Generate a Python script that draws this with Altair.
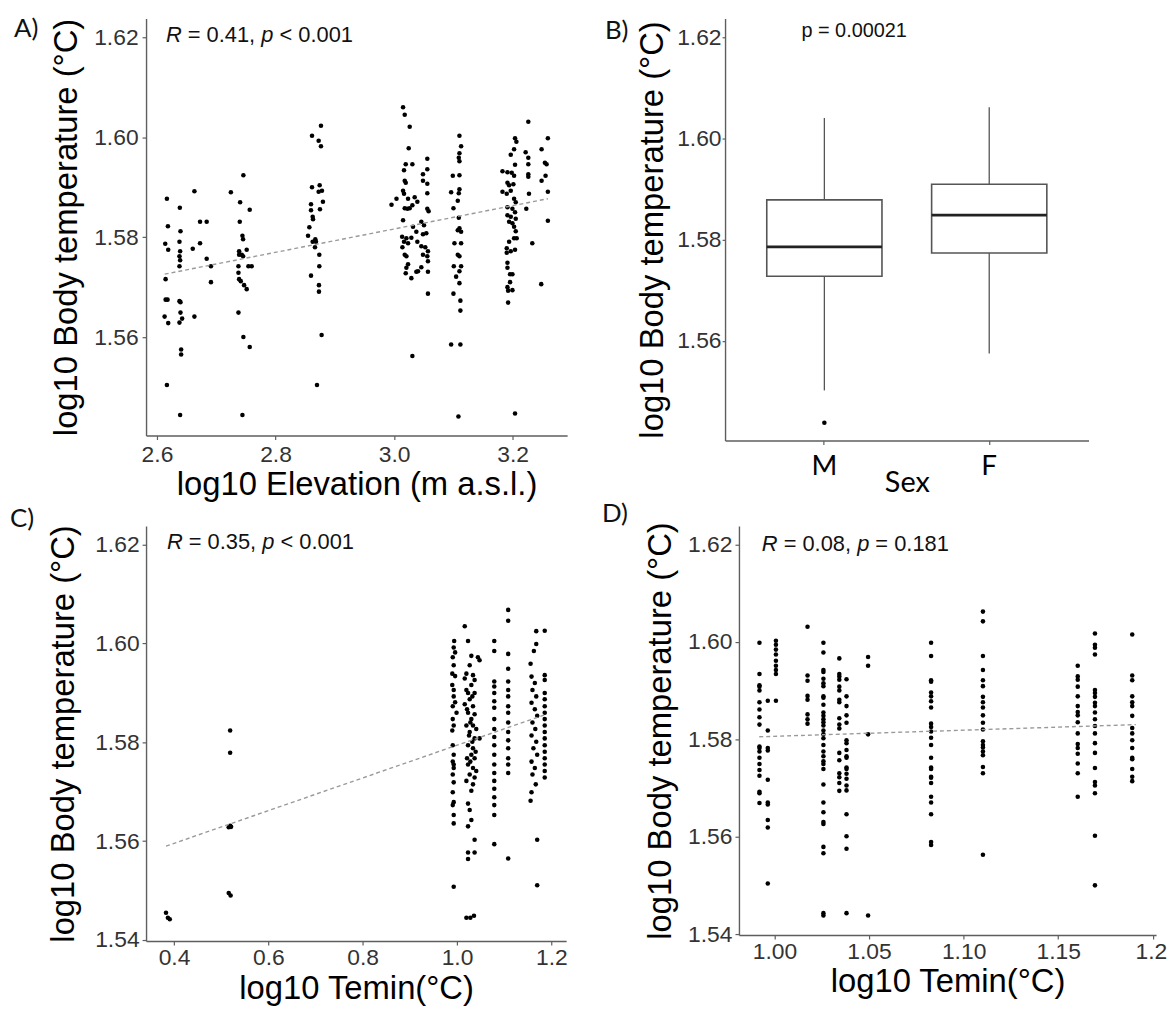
import altair as alt
import pandas as pd

FONT = "Liberation Sans"
LFONT = "Lato"
YTITLE = "log10 Body temperature (°C)"

# ---------------- Panel A: log10 elevation vs log10 body temperature ----------------
elev_pts = [
    (2.6168, 1.5877), (2.6185, 1.5822), (2.6140, 1.5787), (2.6190, 1.5775), (2.6146, 1.5716),
    (2.6146, 1.5675), (2.6179, 1.5675), (2.6129, 1.5641), (2.6190, 1.5628), (2.6168, 1.5504),
    (2.6386, 1.5859), (2.6397, 1.5812), (2.6380, 1.5791), (2.6391, 1.5772), (2.6380, 1.5762),
    (2.6391, 1.5754), (2.6380, 1.5742), (2.6380, 1.5672), (2.6397, 1.5670), (2.6397, 1.5649),
    (2.6425, 1.5637), (2.6380, 1.5629), (2.6408, 1.5575), (2.6408, 1.5565), (2.6391, 1.5444),
    (2.6632, 1.5892), (2.6604, 1.5777), (2.6727, 1.5788), (2.6727, 1.5831), (2.6839, 1.5831),
    (2.6839, 1.5757), (2.6911, 1.5742), (2.6911, 1.5710), (2.6632, 1.5641),
    (2.7247, 1.5890), (2.7458, 1.5924), (2.7403, 1.5870), (2.7565, 1.5855), (2.7397, 1.5831),
    (2.7442, 1.5803), (2.7453, 1.5796), (2.7386, 1.5772), (2.7514, 1.5775), (2.7386, 1.5765),
    (2.7431, 1.5765), (2.7453, 1.5762), (2.7375, 1.5742), (2.7543, 1.5742), (2.7598, 1.5742),
    (2.7375, 1.5729), (2.7386, 1.5716), (2.7414, 1.5712), (2.7470, 1.5704), (2.7514, 1.5696),
    (2.7375, 1.5649), (2.7458, 1.5600), (2.7565, 1.5580), (2.7442, 1.5444),
    (2.8767, 1.6023), (2.8616, 1.6003), (2.8728, 1.5993), (2.8767, 1.5982), (2.8616, 1.5900),
    (2.8745, 1.5904), (2.8784, 1.5893), (2.8728, 1.5891), (2.8800, 1.5871), (2.8599, 1.5866),
    (2.8750, 1.5856), (2.8599, 1.5854), (2.8627, 1.5841), (2.8633, 1.5836), (2.8571, 1.5820),
    (2.8549, 1.5803), (2.8672, 1.5796), (2.8627, 1.5791), (2.8683, 1.5791), (2.8666, 1.5780),
    (2.8739, 1.5765), (2.8739, 1.5742), (2.8599, 1.5723), (2.8733, 1.5704), (2.8733, 1.5691),
    (2.8778, 1.5604), (2.8700, 1.5504),
    (3.0152, 1.6060), (3.0180, 1.6045), (3.0264, 1.6021), (3.0247, 1.5978), (3.0197, 1.5946),
    (3.0309, 1.5946), (3.0168, 1.5934), (3.0561, 1.5957), (3.0488, 1.5926), (3.0561, 1.5936),
    (3.0488, 1.5913), (3.0561, 1.5907), (3.0180, 1.5913), (3.0197, 1.5909), (3.0152, 1.5893),
    (2.9957, 1.5865), (3.0041, 1.5877), (3.0168, 1.5887), (3.0236, 1.5877), (3.0180, 1.5858),
    (3.0264, 1.5858), (3.0348, 1.5880), (3.0393, 1.5871), (3.0309, 1.5864), (3.0225, 1.5857),
    (3.0561, 1.5888), (3.0561, 1.5857), (3.0583, 1.5852), (3.0152, 1.5834), (3.0320, 1.5821),
    (3.0460, 1.5831), (3.0505, 1.5824), (3.0136, 1.5801), (3.0208, 1.5798), (3.0292, 1.5799),
    (3.0376, 1.5811), (3.0488, 1.5806), (3.0544, 1.5808), (3.0168, 1.5791), (3.0141, 1.5780),
    (3.0236, 1.5788), (3.0393, 1.5791), (3.0460, 1.5782), (3.0527, 1.5780), (3.0572, 1.5772),
    (3.0180, 1.5765), (3.0208, 1.5762), (3.0488, 1.5765), (3.0561, 1.5762), (3.0236, 1.5746),
    (3.0208, 1.5739), (3.0404, 1.5732), (3.0460, 1.5740), (3.0572, 1.5752), (3.0197, 1.5728),
    (3.0292, 1.5718), (3.0376, 1.5731), (3.0572, 1.5731), (3.0572, 1.5687), (3.0309, 1.5562),
    (3.1103, 1.6003), (3.1131, 1.5982), (3.1103, 1.5968), (3.1092, 1.5959), (3.1103, 1.5952),
    (3.0991, 1.5923), (3.1103, 1.5924), (3.0963, 1.5890), (3.1103, 1.5896), (3.1092, 1.5888),
    (3.1002, 1.5858), (3.1075, 1.5873), (3.1092, 1.5839), (3.1103, 1.5818), (3.1075, 1.5814),
    (3.1131, 1.5811), (3.1019, 1.5788), (3.1131, 1.5788), (3.1075, 1.5765), (3.1103, 1.5762),
    (3.1008, 1.5742), (3.1131, 1.5742), (3.1047, 1.5721), (3.1103, 1.5732), (3.1103, 1.5708),
    (3.1002, 1.5687), (3.1119, 1.5673), (3.1119, 1.5653), (3.0963, 1.5585), (3.1119, 1.5585),
    (3.1086, 1.5441),
    (3.2041, 1.5998), (3.2064, 1.5991), (3.2025, 1.5976), (3.1969, 1.5965), (3.1829, 1.5932),
    (3.1913, 1.5930), (3.2041, 1.5945), (3.1985, 1.5929), (3.2025, 1.5923), (3.1913, 1.5909),
    (3.1941, 1.5904), (3.2013, 1.5906), (3.1829, 1.5891), (3.1901, 1.5887), (3.1969, 1.5893),
    (3.2025, 1.5877), (3.2053, 1.5870), (3.1913, 1.5860), (3.1997, 1.5857), (3.2041, 1.5850),
    (3.1913, 1.5844), (3.1969, 1.5841), (3.2053, 1.5837), (3.1941, 1.5831), (3.1997, 1.5828),
    (3.2025, 1.5821), (3.2053, 1.5812), (3.2025, 1.5798), (3.2069, 1.5798), (3.1941, 1.5791),
    (3.1901, 1.5778), (3.1969, 1.5772), (3.2041, 1.5775), (3.1901, 1.5769), (3.1913, 1.5749),
    (3.1913, 1.5739), (3.1957, 1.5726), (3.1997, 1.5726), (3.1957, 1.5710), (3.1913, 1.5700),
    (3.1997, 1.5694), (3.1924, 1.5693), (3.1924, 1.5669), (3.2041, 1.5447),
    (3.2265, 1.6031), (3.2220, 1.5970), (3.2265, 1.5959), (3.2265, 1.5946), (3.2265, 1.5926),
    (3.2265, 1.5921), (3.2276, 1.5887), (3.2231, 1.5857), (3.2332, 1.5788),
    (3.2595, 1.5998), (3.2489, 1.5976), (3.2545, 1.5949), (3.2573, 1.5946), (3.2556, 1.5923),
    (3.2489, 1.5913), (3.2595, 1.5891), (3.2595, 1.5833), (3.2483, 1.5706),
]
reg_a_x = [2.613, 3.2595]
reg_a_y = [1.5726, 1.5877]

# ---------------- Panel B: boxplot by sex ----------------
sex = ["M", "F"]
box_q1 = [1.5728, 1.5774]
box_median = [1.5786, 1.5849]
box_q3 = [1.5879, 1.5910]
box_lo = [1.5502, 1.5575]
box_hi = [1.6041, 1.6062]
out_sex = ["M"]
out_val = [1.5438]

# ---------------- Panel C: log10 Temin (all sites) ----------------
c_pts = [
    (0.383, 1.5455), (0.387, 1.5445), (0.391, 1.5442),
    (0.519, 1.5824), (0.519, 1.5779), (0.519, 1.5631), (0.516, 1.5628), (0.521, 1.5629),
    (0.516, 1.5495), (0.520, 1.5490),
    (0.994, 1.6005), (0.993, 1.5992), (0.996, 1.5982), (0.991, 1.5972), (0.993, 1.5956),
    (0.990, 1.5939), (0.996, 1.5934), (0.990, 1.5916), (0.993, 1.5906), (0.993, 1.5893),
    (0.996, 1.5881), (0.991, 1.5873), (0.999, 1.5860), (0.991, 1.5847), (0.993, 1.5834),
    (0.990, 1.5824), (0.991, 1.5794), (0.993, 1.5775), (0.991, 1.5761), (0.993, 1.5755),
    (0.993, 1.5748), (0.991, 1.5735), (0.993, 1.5719), (0.991, 1.5699), (0.993, 1.5679),
    (0.991, 1.5673), (0.993, 1.5653), (0.993, 1.5636), (0.993, 1.5508),
    (1.0164, 1.6035), (1.0234, 1.6005), (1.0304, 1.5975), (1.0443, 1.5972), (1.0478, 1.5966),
    (1.0269, 1.5956), (1.0199, 1.5939), (1.0339, 1.5936), (1.0373, 1.5926), (1.0164, 1.5929),
    (1.0304, 1.5916), (1.0199, 1.5906), (1.0373, 1.5900), (1.0269, 1.5887), (1.0164, 1.5877),
    (1.0339, 1.5873), (1.0234, 1.5860), (1.0373, 1.5857), (1.0304, 1.5847), (1.0199, 1.5834),
    (1.0339, 1.5834), (1.0269, 1.5821), (1.0373, 1.5808), (1.0478, 1.5808), (1.0234, 1.5794),
    (1.0339, 1.5788), (1.0304, 1.5775), (1.0373, 1.5768), (1.0234, 1.5755), (1.0339, 1.5748),
    (1.0269, 1.5735), (1.0373, 1.5729), (1.0339, 1.5715), (1.0304, 1.5702), (1.0234, 1.5676),
    (1.0269, 1.5663), (1.0304, 1.5643), (1.0234, 1.5630), (1.0373, 1.5603), (1.0234, 1.5577),
    (1.0373, 1.5577), (1.0234, 1.5564), (1.0199, 1.5445), (1.0283, 1.5445), (1.0360, 1.5449),
    (1.0234, 1.5900), (1.0325, 1.5893), (1.0213, 1.5867), (1.0283, 1.5840), (1.0408, 1.5827),
    (1.0255, 1.5814), (1.0325, 1.5801), (1.0395, 1.5781), (1.0213, 1.5768), (1.0283, 1.5761),
    (1.0408, 1.5742), (1.0199, 1.5722),
    (1.168, 1.6025), (1.168, 1.5999), (1.163, 1.5985), (1.156, 1.5959), (1.158, 1.5933),
    (1.165, 1.5920), (1.160, 1.5906), (1.168, 1.5893), (1.158, 1.5880), (1.165, 1.5867),
    (1.170, 1.5854), (1.160, 1.5840), (1.166, 1.5827), (1.158, 1.5814), (1.168, 1.5801),
    (1.162, 1.5788), (1.170, 1.5775), (1.158, 1.5761), (1.165, 1.5748), (1.160, 1.5735),
    (1.167, 1.5715), (1.158, 1.5699), (1.156, 1.5682), (1.170, 1.5603), (1.170, 1.5511),
]
c_col_x = [1.079, 1.1085, 1.186]
c_col_y = [
    [1.6005, 1.5985, 1.5923, 1.5913, 1.5900, 1.5883, 1.5870, 1.5847, 1.5827, 1.5811,
     1.5794, 1.5775, 1.5755, 1.5738, 1.5722, 1.5706, 1.5689, 1.5673, 1.5653, 1.5594],
    [1.6068, 1.6046, 1.5979, 1.5949, 1.5923, 1.5906, 1.5893, 1.5873, 1.5860, 1.5840,
     1.5821, 1.5804, 1.5788, 1.5768, 1.5755, 1.5738, 1.5565],
    [1.6026, 1.5936, 1.5926, 1.5900, 1.5887, 1.5873, 1.5860, 1.5847, 1.5834, 1.5821,
     1.5808, 1.5794, 1.5781, 1.5768, 1.5755, 1.5742, 1.5729],
]
reg_c_x = [0.383, 1.190]
reg_c_y = [1.5590, 1.5857]

# ---------------- Panel D: log10 Temin (subset) ----------------
d_col_x = [0.9921, 0.9965, 1.0008, 1.0175, 1.0259, 1.0343, 1.0381, 1.0495,
           1.0828, 1.1102, 1.1603, 1.1694, 1.1891]
d_col_y = [
    [1.5998, 1.5934, 1.5911, 1.5908, 1.5900, 1.5876, 1.5861, 1.5845, 1.5830, 1.5785,
     1.5782, 1.5775, 1.5762, 1.5749, 1.5737, 1.5725, 1.5692, 1.5689, 1.5669],
    [1.5879, 1.5818, 1.5782, 1.5777, 1.5717, 1.5670, 1.5666, 1.5634, 1.5619, 1.5504],
    [1.6002, 1.5994, 1.5984, 1.5974, 1.5961, 1.5951, 1.5942, 1.5934, 1.5879],
    [1.6031, 1.5931, 1.5920, 1.5889, 1.5881, 1.5851, 1.5841, 1.5832],
    [1.5998, 1.5978, 1.5942, 1.5938, 1.5924, 1.5915, 1.5909, 1.5888, 1.5885, 1.5871,
     1.5855, 1.5848, 1.5841, 1.5835, 1.5828, 1.5818, 1.5810, 1.5802, 1.5788, 1.5775,
     1.5765, 1.5755, 1.5749, 1.5739, 1.5707, 1.5670, 1.5650, 1.5630, 1.5626, 1.5579,
     1.5566, 1.5443, 1.5438],
    [1.5966, 1.5934, 1.5929, 1.5922, 1.5908, 1.5900, 1.5881, 1.5876, 1.5843, 1.5830,
     1.5822, 1.5772, 1.5757, 1.5730, 1.5722, 1.5710, 1.5694],
    [1.5923, 1.5888, 1.5868, 1.5849, 1.5834, 1.5798, 1.5792, 1.5778, 1.5765, 1.5762,
     1.5742, 1.5739, 1.5729, 1.5719, 1.5705, 1.5695, 1.5646, 1.5601, 1.5575, 1.5443],
    [1.5969, 1.5951, 1.5810, 1.5438],
    [1.5998, 1.5971, 1.5921, 1.5918, 1.5896, 1.5888, 1.5878, 1.5865, 1.5832, 1.5825,
     1.5816, 1.5803, 1.5788, 1.5762, 1.5742, 1.5739, 1.5723, 1.5721, 1.5710, 1.5682,
     1.5670, 1.5646, 1.5589, 1.5583],
    [1.6062, 1.6042, 1.5971, 1.5942, 1.5921, 1.5909, 1.5887, 1.5876, 1.5865, 1.5849,
     1.5834, 1.5820, 1.5796, 1.5788, 1.5783, 1.5775, 1.5767, 1.5743, 1.5730, 1.5563],
    [1.5951, 1.5929, 1.5922, 1.5908, 1.5888, 1.5868, 1.5856, 1.5849, 1.5835, 1.5812,
     1.5790, 1.5782, 1.5770, 1.5750, 1.5730, 1.5682],
    [1.6017, 1.5994, 1.5988, 1.5974, 1.5901, 1.5895, 1.5887, 1.5875, 1.5868, 1.5855,
     1.5841, 1.5827, 1.5812, 1.5792, 1.5772, 1.5741, 1.5712, 1.5705, 1.5689, 1.5602,
     1.5500],
    [1.6015, 1.5931, 1.5921, 1.5888, 1.5876, 1.5868, 1.5848, 1.5823, 1.5812, 1.5798,
     1.5782, 1.5762, 1.5759, 1.5739, 1.5723, 1.5714],
]
reg_d_x = [0.992, 1.191]
reg_d_y = [1.5805, 1.5830]

# ---------------- helpers ----------------
ARIAL_W = {"R": 0.722, " ": 0.278, "=": 0.584, ".": 0.278, ",": 0.278, "p": 0.556, "<": 0.584}
for _d in "0123456789":
    ARIAL_W[_d] = 0.556

ONE = pd.DataFrame({"k": [0]})
DOT = 21


def stat_layers(tokens, x0, y0, fs=22):
    layers = []
    x = x0
    for tok, ital in tokens:
        if tok.strip():
            layers.append(
                alt.Chart(ONE).mark_text(
                    text=tok, align="left", baseline="middle", font=FONT, fontSize=fs,
                    fontStyle="italic" if ital else "normal", color="#111"
                ).encode(x=alt.value(x), y=alt.value(y0))
            )
        x += sum(ARIAL_W[c] for c in tok) * fs
    return layers


def letter(txt, dx, dy):
    return alt.Chart(ONE).mark_text(
        text=txt, align="left", baseline="top", font=LFONT, fontSize=26, color="#111"
    ).encode(x=alt.value(dx), y=alt.value(dy))


def y_axis(values, tick=4, pad=4, tpad=10):
    return alt.Axis(values=values, format=".2f", title=YTITLE, tickSize=tick,
                    labelPadding=pad, titlePadding=tpad)


def scatter_panel(df, reg, xscale, xaxis, yscale, yaxis, extra, w, h):
    xe = alt.X("x:Q", scale=xscale, axis=xaxis)
    ye = alt.Y("y:Q", scale=yscale, axis=yaxis)
    pts = alt.Chart(df).mark_circle(size=DOT, color="black", opacity=1).encode(x=xe, y=ye)
    line = alt.Chart(reg).mark_line(color="#9a9a9a", strokeDash=[4, 3], strokeWidth=1.4).encode(x=xe, y=ye)
    return alt.layer(pts, line, *extra).properties(width=w, height=h)


def tokens(r, rel, pv):
    return [("R", True), (" ", False), ("=", False), (" ", False), (r + ",", False), (" ", False),
            ("p", True), (" ", False), (rel, False), (" ", False), (pv, False)]


# ---------------- Panel A ----------------
dfA = pd.DataFrame(elev_pts, columns=["x", "y"])
regA = pd.DataFrame({"x": reg_a_x, "y": reg_a_y})
yscale_AB = alt.Scale(domain=[1.5403, 1.6238], nice=False, zero=False)
panelA = scatter_panel(
    dfA, regA,
    alt.Scale(domain=[2.5816, 3.292], nice=False, zero=False),
    alt.Axis(values=[2.6, 2.8, 3.0, 3.2], format=".1f", title="log10 Elevation (m a.s.l.)",
             tickSize=4, labelPadding=4, titlePadding=2),
    yscale_AB, y_axis([1.56, 1.58, 1.60, 1.62], 4, 4, 10),
    [letter("A)", -133, -2)] + stat_layers(tokens("0.41", "<", "0.001"), 20, 17),
    424, 420,
)

# ---------------- Panel B ----------------
dfB = pd.DataFrame({"sex": sex, "q1": box_q1, "med": box_median, "q3": box_q3,
                    "lo": box_lo, "hi": box_hi})
dfBo = pd.DataFrame({"sex": out_sex, "q1": out_val})
xB = alt.X("sex:N", sort=sex,
           scale=alt.Scale(type="band", paddingInner=0.3012, paddingOuter=0.253),
           axis=alt.Axis(title="Sex", labelAngle=0, labelFont=LFONT, labelFontSize=28,
                         labelColor="black", titleFont=LFONT, titleFontSize=29,
                         tickSize=4, labelPadding=8, titlePadding=-12))
yB_axis = y_axis([1.56, 1.58, 1.60, 1.62], 3, 1, 7)
yB = lambda f: alt.Y(f"{f}:Q", scale=yscale_AB, axis=yB_axis, title=YTITLE)
whisk_lo = alt.Chart(dfB).mark_rule(color="#555", strokeWidth=1.3).encode(x=xB, y=yB("lo"), y2="q1:Q")
whisk_hi = alt.Chart(dfB).mark_rule(color="#555", strokeWidth=1.3).encode(x=xB, y=yB("q3"), y2="hi:Q")
boxes = alt.Chart(dfB).mark_bar(fill="white", stroke="#555", strokeWidth=1.6, opacity=1).encode(
    x=xB, y=yB("q1"), y2="q3:Q")
medians = alt.Chart(dfB).mark_tick(color="#222222", thickness=2.8, size=116, opacity=1).encode(
    x=xB, y=yB("med"))
outl = alt.Chart(dfBo).mark_circle(size=DOT, color="black", opacity=1).encode(x=xB, y=yB("q1"))
ptext = alt.Chart(ONE).mark_text(text="p = 0.00021", font=FONT, fontSize=20, color="#111",
                                 align="center", baseline="middle").encode(
    x=alt.value(130), y=alt.value(13))
panelB = alt.layer(whisk_lo, whisk_hi, boxes, medians, outl, ptext,
                   letter("B)", -121, 0)).properties(width=366, height=425)

# ---------------- Panel C ----------------
c_rows = list(c_pts)
for cx, ys in zip(c_col_x, c_col_y):
    c_rows += [(cx, v) for v in ys]
dfC = pd.DataFrame(c_rows, columns=["x", "y"])
regC = pd.DataFrame({"x": reg_c_x, "y": reg_c_y})
yscale_CD = alt.Scale(domain=[1.5398, 1.6238], nice=False, zero=False)
panelC = scatter_panel(
    dfC, regC,
    alt.Scale(domain=[0.3407, 1.2314], nice=False, zero=False),
    alt.Axis(values=[0.4, 0.6, 0.8, 1.0, 1.2], format=".1f", title="log10 Temin(°C)",
             tickSize=4, labelPadding=2, titlePadding=3),
    yscale_CD, y_axis([1.54, 1.56, 1.58, 1.60, 1.62], 4, 3, 14),
    [letter("C)", -137, -20)] + stat_layers(tokens("0.35", "<", "0.001"), 21, 16),
    423, 418,
)

# ---------------- Panel D ----------------
d_rows = []
for dx, ys in zip(d_col_x, d_col_y):
    d_rows += [(dx, v) for v in ys]
dfD = pd.DataFrame(d_rows, columns=["x", "y"])
regD = pd.DataFrame({"x": reg_d_x, "y": reg_d_y})
panelD = scatter_panel(
    dfD, regD,
    alt.Scale(domain=[0.98126, 1.2017], nice=False, zero=False),
    alt.Axis(values=[1.00, 1.05, 1.10, 1.15, 1.20], title="log10 Temin(°C)",
             labelExpr="datum.value > 1.19 ? '1.2' : format(datum.value, '.2f')",
             labelFlush=5, labelFlushOffset=14,
             tickSize=4, labelPadding=2, titlePadding=2),
    yscale_CD, y_axis([1.54, 1.56, 1.58, 1.60, 1.62], 4, 3, 10),
    [letter("D)", -138, -25)] + stat_layers(tokens("0.08", "=", "0.181"), 23, 18),
    420, 412,
)

row1 = alt.hconcat(panelA, panelB, spacing=38)
row2 = alt.hconcat(panelC, panelD, spacing=34)
chart = alt.vconcat(row1, row2, spacing=0).properties(
    padding={"left": 2, "top": 5, "right": 0, "bottom": 0}
).configure_view(stroke=None).configure_axis(
    grid=False, domainColor="#5e5e5e", domainWidth=1.4, tickColor="#5e5e5e", tickWidth=1.2,
    labelFont=FONT, labelFontSize=23, labelColor="#333333",
    titleFont=FONT, titleFontSize=33, titleFontWeight="normal", titleColor="black",
)

chart.save("out.html", embed_options={"renderer": "svg", "actions": False})
